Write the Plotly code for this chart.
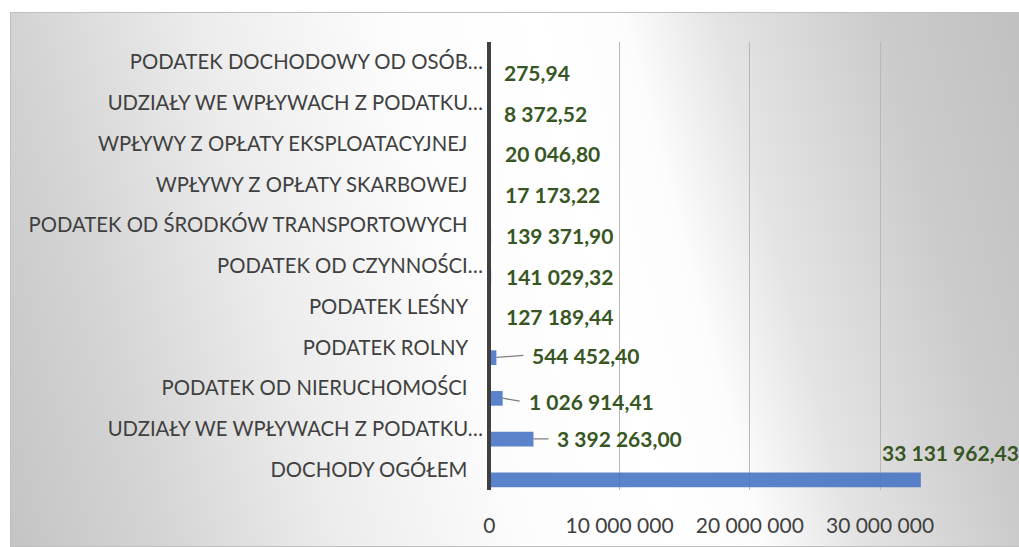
import base64
import plotly.graph_objects as go

# ---- data (bottom to top, as drawn) ----
categories = [
    "DOCHODY OGÓŁEM",
    "UDZIAŁY WE WPŁYWACH Z PODATKU…",
    "PODATEK OD NIERUCHOMOŚCI",
    "PODATEK ROLNY",
    "PODATEK LEŚNY",
    "PODATEK OD CZYNNOŚCI…",
    "PODATEK OD ŚRODKÓW TRANSPORTOWYCH",
    "WPŁYWY Z OPŁATY SKARBOWEJ",
    "WPŁYWY Z OPŁATY EKSPLOATACYJNEJ",
    "UDZIAŁY WE WPŁYWACH Z PODATKU…",
    "PODATEK DOCHODOWY OD OSÓB…",
]
values = [
    33131962.43,
    3392263.00,
    1026914.41,
    544452.40,
    127189.44,
    141029.32,
    139371.90,
    17173.22,
    20046.80,
    8372.52,
    275.94,
]
x_ticks = [0, 10000000, 20000000, 30000000]
x_min, x_max = -100000, 39900000

W, H = 1019, 547
ML, MR, MT, MB = 488, 10, 42, 57
PW, PH = W - ML - MR, H - MT - MB

FONT = "Lato, 'Open Sans', sans-serif"
LABEL_COLOR = "#404040"
VALUE_COLOR = "#375623"


def fmt(v):
    s = f"{v:,.2f}"
    return s.replace(",", " ").replace(".", ",")


# background: gradient panel as svg
svg = f'''<svg xmlns="http://www.w3.org/2000/svg" width="{W}" height="{H}" viewBox="0 0 {W} {H}" preserveAspectRatio="none">
<defs><linearGradient id="g" gradientUnits="userSpaceOnUse" x1="-28" y1="447" x2="1064" y2="160">
<stop offset="0.01" stop-color="#c4c4c4"/>
<stop offset="0.14" stop-color="#d4d4d4"/>
<stop offset="0.29" stop-color="#ececec"/>
<stop offset="0.45" stop-color="#fcfcfc"/>
<stop offset="0.58" stop-color="#ffffff"/>
<stop offset="0.655" stop-color="#fcfcfc"/>
<stop offset="0.735" stop-color="#e4e4e4"/>
<stop offset="0.876" stop-color="#cbcbcb"/>
<stop offset="1" stop-color="#c0c0c0"/>
</linearGradient></defs>
<rect x="10.5" y="12.5" width="1012" height="534" fill="url(#g)" stroke="#bfbfbf" stroke-width="1"/>
</svg>'''
src = "data:image/svg+xml;base64," + base64.b64encode(svg.encode("utf-8")).decode("ascii")

ypos = list(range(len(categories)))
ticktext = [c if c.endswith("…") else c + "\u00a0" * 3 for c in categories]

fig = go.Figure()
fig.add_trace(go.Bar(
    x=values,
    y=ypos,
    orientation="h",
    width=0.36,
    offset=-0.43,
    marker=dict(color="rgba(68,114,196,0.88)", line=dict(width=0)),
    hoverinfo="skip",
))

annotations = []
# leader-line labels: index -> (ax, ay)
leaders = {1: (15, 0), 2: (17, 3), 3: (27, -2)}
for i, v in enumerate(values):
    base = dict(x=v, y=i, xref="x", yref="y", text=fmt(v),
                font=dict(family=FONT, size=21, color=VALUE_COLOR, weight="bold"),
                xanchor="left", yanchor="middle")
    if i == 0:
        base.update(showarrow=False, xshift=-41, yshift=17)
    elif i in leaders:
        ax, ay = leaders[i]
        base.update(showarrow=True, arrowhead=0, arrowwidth=1.3, arrowcolor="#7f7f7f",
                    ax=ax, ay=ay, borderpad=8, yshift=-10, standoff=0)
    else:
        base.update(showarrow=False, xshift=13, yshift=-10)
    annotations.append(base)

fig.update_layout(
    width=W, height=H,
    margin=dict(l=ML, r=MR, t=MT, b=MB, pad=0),
    paper_bgcolor="white",
    plot_bgcolor="rgba(0,0,0,0)",
    separators=", ",
    showlegend=False,
    annotations=annotations,
    images=[dict(source=src, xref="paper", yref="paper",
                 x=-ML / PW, y=1 + MT / PH, sizex=W / PW, sizey=H / PH,
                 xanchor="left", yanchor="top", sizing="stretch", layer="below")],
    xaxis=dict(range=[x_min, x_max], tickvals=x_ticks, tickformat=",.0f",
               showgrid=True, gridcolor="#b8b8b8", gridwidth=1, automargin=False,
               zeroline=True, zerolinecolor="#404040", zerolinewidth=4,
               showline=False, ticks="", ticklabelstandoff=21,
               tickfont=dict(family=FONT, size=21, color=LABEL_COLOR)),
    yaxis=dict(range=[-0.5, len(categories) - 0.5], tickvals=ypos, ticktext=ticktext,
               showgrid=False, zeroline=False, showline=False,
               ticks="", ticklabelstandoff=4, automargin=False,
               tickfont=dict(family=FONT, size=20.3, color=LABEL_COLOR)),
)
try:
    fig.update_xaxes(zerolinelayer="above traces")
except Exception:
    pass

fig.write_html("out.html", config={"displayModeBar": False},
               post_script="document.body.style.margin='0';document.body.style.overflow='hidden';")
